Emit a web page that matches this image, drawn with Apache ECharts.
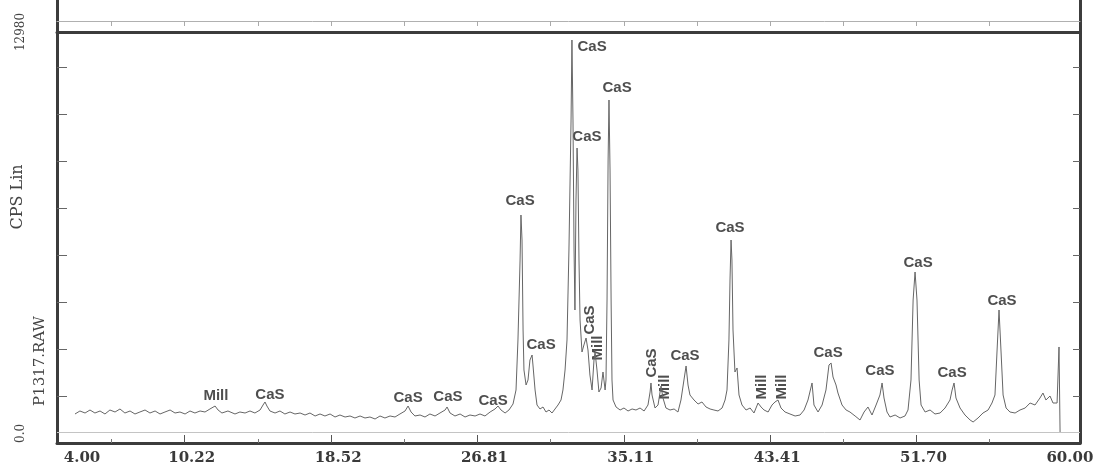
<!DOCTYPE html>
<html><head><meta charset="utf-8">
<script src="https://cdn.jsdelivr.net/npm/echarts@6/dist/echarts.min.js"></script>
<style>html,body{margin:0;padding:0;background:#fff}#c{width:1102px;height:471px}</style>
</head><body><div id="c"></div>
<script>
const twoTheta = [4.00,4.28,4.57,4.85,5.13,5.42,5.70,5.98,6.27,6.55,6.83,7.12,7.40,7.68,7.97,8.25,8.54,8.82,9.10,9.39,9.67,9.95,10.24,10.52,10.80,11.09,11.37,11.65,11.94,12.11,12.33,12.67,13.07,13.35,13.64,13.92,14.20,14.49,14.66,14.77,14.88,15.05,15.34,15.62,15.90,16.19,16.47,16.76,17.04,17.32,17.61,17.89,18.17,18.46,18.74,19.02,19.31,19.59,19.87,20.16,20.44,20.72,21.01,21.29,21.57,21.86,22.14,22.42,22.71,22.88,23.05,23.27,23.56,23.84,24.12,24.41,24.69,24.98,25.09,25.26,25.54,25.83,26.11,26.39,26.68,26.96,27.24,27.53,27.81,27.98,28.15,28.38,28.60,28.83,29.00,29.11,29.23,29.28,29.34,29.40,29.45,29.57,29.68,29.79,29.91,29.96,30.08,30.19,30.36,30.53,30.70,30.87,31.04,31.21,31.38,31.55,31.66,31.78,31.89,32.00,32.12,32.17,32.23,32.29,32.34,32.40,32.46,32.51,32.57,32.63,32.74,32.85,32.97,33.08,33.19,33.31,33.42,33.48,33.59,33.70,33.82,33.93,34.05,34.10,34.16,34.22,34.27,34.33,34.39,34.44,34.50,34.67,34.90,35.12,35.35,35.58,35.80,36.03,36.26,36.48,36.60,36.65,36.71,36.88,37.05,37.22,37.33,37.50,37.73,37.96,38.18,38.35,38.52,38.64,38.75,38.86,39.09,39.32,39.54,39.77,40.00,40.22,40.45,40.68,40.85,40.96,41.07,41.13,41.19,41.24,41.30,41.41,41.53,41.64,41.81,42.04,42.27,42.49,42.72,42.89,43.06,43.29,43.51,43.68,43.85,44.02,44.25,44.53,44.82,45.10,45.33,45.55,45.78,45.89,46.12,46.35,46.57,46.74,46.86,46.97,47.14,47.25,47.48,47.71,47.93,48.22,48.50,48.73,48.95,49.18,49.41,49.63,49.75,49.86,50.03,50.20,50.49,50.77,51.05,51.22,51.39,51.51,51.62,51.73,51.85,51.96,52.19,52.47,52.75,53.04,53.32,53.60,53.72,53.83,53.94,54.17,54.45,54.74,54.91,55.19,55.47,55.76,55.98,56.15,56.27,56.38,56.49,56.61,56.78,57.00,57.29,57.57,57.86,58.14,58.42,58.70,58.87,59.04,59.27,59.44,59.67,59.78,59.84];
const counts = [916,1011,947,1042,947,1011,916,1042,979,1074,947,1011,916,979,1042,947,1011,916,979,1042,947,979,916,1011,947,1011,979,1074,1168,1042,947,1011,916,979,947,1011,947,1042,1200,1295,1168,1011,947,1011,916,979,916,947,884,947,853,916,853,916,821,884,821,853,790,853,790,821,758,853,790,853,821,916,1011,1168,979,853,884,821,916,853,947,1042,1137,947,853,916,821,884,853,916,853,979,1074,1168,1042,947,1042,1232,1674,3253,5779,7200,6411,3569,2305,1832,1990,2621,2779,2463,1674,1200,1074,1137,979,1042,947,1074,1200,1358,1674,2305,3253,6095,10200,12727,10200,6095,4200,7674,9316,8621,5779,3884,2874,3095,3316,2937,2147,1674,2621,2874,2305,1611,1737,2242,1674,1990,4516,8937,10832,8621,4516,1990,1358,1137,1042,1105,1011,1074,1042,1105,1011,1200,1611,1895,1516,1105,1200,1800,1421,1105,1042,1074,979,1358,1990,2432,1832,1516,1358,1232,1295,1137,1074,1042,1011,1105,1358,1674,3253,5148,6411,5779,3569,2242,2369,1516,1200,1042,1105,947,1263,1137,1042,979,1200,1295,1358,1105,979,916,853,884,1042,1358,1895,1200,979,1200,1674,2463,2526,2084,1832,1579,1200,1042,979,853,726,979,1137,884,1200,1516,1895,1421,979,821,884,790,853,1042,1990,4516,5400,4516,1990,1200,979,1042,916,947,1105,1358,1674,1895,1421,1105,884,726,663,790,947,1042,1263,1516,2937,4200,2937,1516,1105,979,947,1042,1105,1263,1200,1421,1579,1358,1484,1263,1263,3032,347];

// phase annotations
const peakLabels = ['Mill','CaS','CaS','CaS','CaS','CaS','CaS','CaS','CaS','CaS','CaS','Mill','CaS','Mill','CaS','CaS','Mill','Mill','CaS','CaS','CaS','CaS','CaS'];
const peakLabelTheta = [11.99,15.05,22.88,25.14,27.70,29.23,30.42,33.31,33.02,34.73,33.19,33.65,36.71,37.45,38.58,41.13,42.95,44.08,46.69,49.63,51.79,53.72,56.55];
const peakLabelCounts = [1484,1516,1421,1453,1326,7642,3095,12506,9663,11211,3884,3000,2526,1768,2747,6790,1768,1768,2842,2274,5684,2211,4484];
const peakLabelRotate = [0,0,0,0,0,0,0,0,0,0,90,90,90,90,0,0,90,90,0,0,0,0,0];

// axes
const xLabelValues = [4.00,10.22,18.52,26.81,35.11,43.41,51.70,60.00];
const xMajorTicks = [10.22,18.52,26.81,35.11,43.41,51.70];
const xMinorTicks = [6.07,14.37,22.67,30.96,39.26,47.56,55.85];
const xMin = 2.98, xMax = 60.97;
const yLabelValues = [0, 12980];
const yTickValues = [1485,2970,4455,5940,7425,8910,10395,11880];
const yMin = 0, yMax = 12980;
const innerFrameValue = 347;

const frameColor = '#3c3c3c';
const chart = echarts.init(document.getElementById('c'), null, {renderer:'canvas'});
const thick = {show:true, lineStyle:{color:frameColor, width:3}};
chart.setOption({
  animation:false,
  backgroundColor:'#fff',
  grid:[
    {left:57, right:22, top:32, bottom:28, outerBoundsMode:'none'},
    {left:57, right:22, top:0, height:32, outerBoundsMode:'none'}
  ],
  xAxis:[
    {type:'value', gridIndex:0, position:'bottom', min:xMin, max:xMax,
     axisLine:thick,
     axisTick:{show:true, inside:true, length:8, customValues:xMajorTicks, lineStyle:{color:'#555', width:1}},
     axisLabel:{show:true, customValues:xLabelValues, formatter:v=>Number(v).toFixed(2), margin:8,
       padding:[0,0,0,14],
       fontFamily:'DejaVu Serif', fontWeight:'bold', fontSize:15, color:'#3a3a3a'},
     splitLine:{show:false}},
    {type:'value', gridIndex:0, position:'bottom', min:xMin, max:xMax,
     axisLine:{show:false},
     axisTick:{show:true, inside:true, length:4, customValues:xMinorTicks, lineStyle:{color:'#777', width:1}},
     axisLabel:{show:false}, splitLine:{show:false}},
    {type:'value', gridIndex:0, position:'top', min:xMin, max:xMax,
     axisLine:thick, axisTick:{show:false}, axisLabel:{show:false}, splitLine:{show:false}},
    {type:'value', gridIndex:1, position:'top', offset:-21, min:xMin, max:xMax,
     axisLine:{show:true, lineStyle:{color:'#b0b0b0', width:1}},
     axisTick:{show:true, inside:true, length:5, customValues:xMajorTicks.concat(xMinorTicks), lineStyle:{color:'#aaa'}},
     axisLabel:{show:false}, splitLine:{show:false}}
  ],
  yAxis:[
    {type:'value', gridIndex:0, position:'left', min:yMin, max:yMax,
     axisLine:thick,
     axisTick:{show:true, inside:true, length:10, customValues:yTickValues, lineStyle:{color:'#666'}},
     axisLabel:{show:true, customValues:yLabelValues, rotate:90, margin:30, alignMinLabel:'left',
       formatter:v=>(v===0?'0.0':String(v)), fontFamily:'DejaVu Serif', fontSize:12, color:'#444'},
     splitLine:{show:false}},
    {type:'value', gridIndex:0, position:'right', min:yMin, max:yMax,
     axisLine:thick,
     axisTick:{show:true, inside:true, length:7, customValues:yTickValues, lineStyle:{color:'#666'}},
     axisLabel:{show:false}, splitLine:{show:false}},
    {type:'value', gridIndex:1, position:'left', min:0, max:1,
     axisLine:thick, axisTick:{show:false}, axisLabel:{show:false}, splitLine:{show:false}},
    {type:'value', gridIndex:1, position:'right', min:0, max:1,
     axisLine:thick, axisTick:{show:false}, axisLabel:{show:false}, splitLine:{show:false}}
  ],
  graphic:[
    {type:'text', x:18, y:197, rotation:Math.PI/2,
     style:{text:'CPS Lin', font:'16px "DejaVu Serif"', fill:'#444', textAlign:'center', textVerticalAlign:'middle'}},
    {type:'text', x:40, y:361, rotation:Math.PI/2,
     style:{text:'P1317.RAW', font:'15px "DejaVu Serif"', fill:'#444', textAlign:'center', textVerticalAlign:'middle'}}
  ],
  series:[
    {type:'line', xAxisIndex:0, yAxisIndex:0,
     data:twoTheta.map((t,i)=>[t,counts[i]]),
     showSymbol:false, symbol:'none', sampling:'none',
     lineStyle:{color:'#666666', width:1},
     markLine:{silent:true, symbol:'none', label:{show:false},
       lineStyle:{color:'#c4c4c4', width:1, type:'solid'},
       data:[{yAxis:innerFrameValue}]}},
    {type:'scatter', xAxisIndex:0, yAxisIndex:0, symbolSize:0,
     data:peakLabels.map((n,i)=>({name:n, value:[peakLabelTheta[i], peakLabelCounts[i]], label:{rotate:peakLabelRotate[i]}})),
     label:{show:true, position:'inside', formatter:p=>p.name,
       fontFamily:'Liberation Sans', fontWeight:'bold', fontSize:15, color:'#222'}}
  ]
});
</script></body></html>
